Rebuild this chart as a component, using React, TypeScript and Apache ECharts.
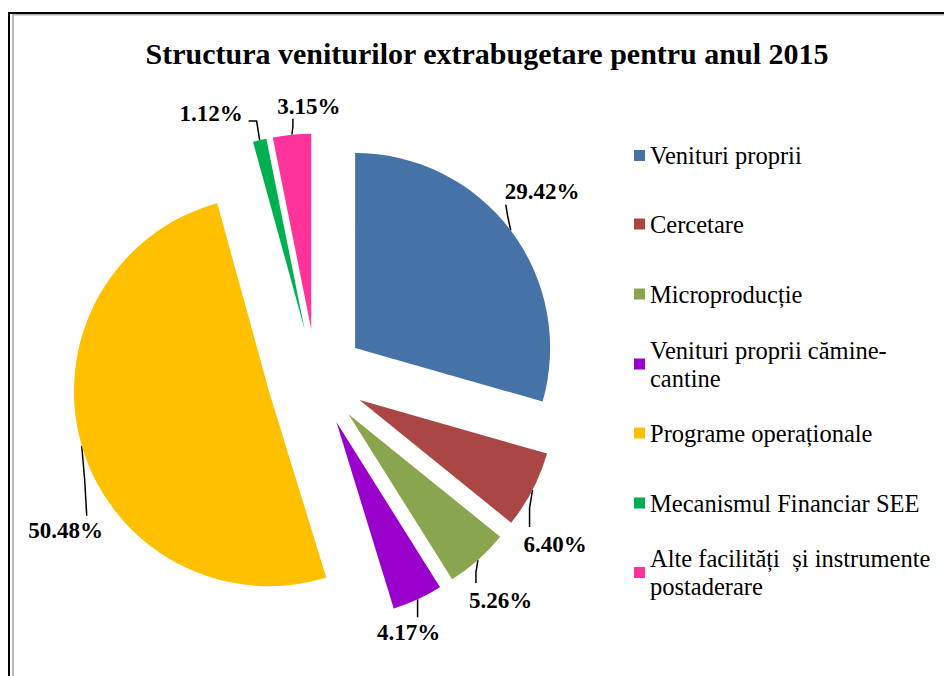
import React, { useEffect, useRef } from 'react';
import * as echarts from 'echarts';

const chartTitle = 'Structura veniturilor extrabugetare pentru anul 2015';
const categories = [
  'Venituri proprii',
  'Cercetare',
  'Microproducție',
  'Venituri proprii cămine-cantine',
  'Programe operaționale',
  'Mecanismul Financiar SEE',
  'Alte facilități și instrumente postaderare',
];
const legendLabels = [
  'Venituri proprii',
  'Cercetare',
  'Microproducție',
  'Venituri proprii cămine-\ncantine',
  'Programe operaționale',
  'Mecanismul Financiar SEE',
  'Alte facilități  și instrumente\npostaderare',
];
const values = [29.42, 6.4, 5.26, 4.17, 50.48, 1.12, 3.15];
const colors = ['#4572A7', '#AA4643', '#89A54E', '#9900CC', '#FFC000', '#00B050', '#FF3399'];

// label placement (style): line bend points and text anchor offset relative to the slice's outer mid-point
const labelPlacement = [
  { l1: [-3, -14], l2: [-5, -26], t: [-6, -39], align: 'left' },
  { l1: [-3, 18], l2: [-3, 37], t: [-9, 55], align: 'left' },
  { l1: [-2, 12], l2: [-2, 23], t: [-9, 40], align: 'left' },
  { l1: [0, 9], l2: [0, 18], t: [-9, 33], align: 'center' },
  { l1: [3, 35], l2: [5, 70], t: [-16, 85], align: 'center' },
  { l1: [-3, -19], l2: [-11, -19], t: [-17, -27], align: 'right' },
  { l1: [1, -8], l2: [1, -16], t: [17, -28], align: 'center' },
];
const legendMarkerCenters = [155.5, 224, 294, 364, 433, 503, 572.5];

const EXPLODE = 49;
const SERIF = 'Liberation Serif';

export default function App() {
  const ref = useRef<HTMLDivElement>(null);
  useEffect(() => {
    if (!ref.current) return;
    const chart = echarts.init(ref.current, undefined, { renderer: 'svg' });
    const lineH = 28;
    const legends = categories.map((name, i) => {
      const twoLine = legendLabels[i].includes('\n');
      const ts = {
        fontFamily: SERIF,
        fontSize: 24.5,
        color: '#000',
        lineHeight: lineH,
        padding: twoLine ? [lineH, 0, 0, 0] : 0,
      };
      return {
        data: [{ name, textStyle: ts }],
        orient: 'vertical',
        left: 634,
        top: legendMarkerCenters[i] - (twoLine ? 42 : 14),
        padding: 0,
        icon: 'rect',
        itemWidth: 11,
        itemHeight: 11,
        selectedMode: false,
        formatter: () => legendLabels[i],
        textStyle: ts,
      };
    });
    chart.setOption({
      animation: false,
      backgroundColor: '#fff',
      textStyle: { fontFamily: SERIF },
      title: {
        text: chartTitle,
        left: 487,
        top: 38,
        padding: 0,
        textAlign: 'center',
        textStyle: { fontFamily: SERIF, fontSize: 30, fontWeight: 'bold', color: '#000' },
      },
      legend: legends,
      graphic: [
        { type: 'line', shape: { x1: 9, y1: 13, x2: 944, y2: 13 }, style: { stroke: '#000', lineWidth: 2 } },
        { type: 'line', shape: { x1: 9, y1: 12, x2: 9, y2: 676 }, style: { stroke: '#000', lineWidth: 2 } },
        { type: 'line', shape: { x1: 13, y1: 14.8, x2: 944, y2: 14.8 }, style: { stroke: '#b0b0b0', lineWidth: 1.5 } },
        { type: 'line', shape: { x1: 13, y1: 14, x2: 13, y2: 676 }, style: { stroke: '#b8b8b8', lineWidth: 2 } },
      ],
      series: [
        {
          type: 'pie',
          center: [316, 377.5],
          radius: 195,
          startAngle: 90,
          clockwise: true,
          selectedMode: 'multiple',
          selectedOffset: EXPLODE,
          avoidLabelOverlap: false,
          emphasis: { disabled: true },
          select: { itemStyle: { borderWidth: 0 } },
          itemStyle: { borderWidth: 0 },
          data: categories.map((name, i) => ({
            name,
            value: values[i],
            selected: true,
            itemStyle: { color: colors[i] },
          })),
          label: {
            show: true,
            position: 'outside',
            formatter: (p: any) => `${p.value.toFixed(2)}%`,
            fontFamily: SERIF,
            fontSize: 23,
            fontWeight: 'bold',
            color: '#000',
          },
          labelLine: {
            show: true,
            length: 10,
            length2: 0,
            lineStyle: { color: '#000', width: 1.5 },
          },
          labelLayout: (params: any) => {
            const pts = params.labelLinePoints;
            const p = labelPlacement[params.dataIndex];
            const R = params.labelRect;
            if (!pts || !p || !R) return {};
            const [x0, y0] = pts[0];
            const [x1, y1] = pts[1];
            const [x2, y2] = pts[pts.length - 1];
            const len = Math.hypot(x1 - x0, y1 - y0) || 1;
            const ex = ((x1 - x0) / len) * EXPLODE;
            const ey = ((y1 - y0) / len) * EXPLODE;
            // anchor of the default label, to find whether its rect already includes the explosion shift
            const da = params.align;
            const ax = da === 'left' ? R.x : da === 'right' ? R.x + R.width : R.x + R.width / 2;
            const ay = R.y + R.height / 2;
            const sameSpace = Math.hypot(ax - x2, ay - y2) <= Math.hypot(ax - x2 - ex, ay - y2 - ey);
            const sx = sameSpace ? 0 : ex;
            const sy = sameSpace ? 0 : ey;
            const gx = x0 + sx + p.t[0];
            const gy = y0 + sy + p.t[1];
            const curX = p.align === 'left' ? R.x : p.align === 'right' ? R.x + R.width : R.x + R.width / 2;
            const curY = R.y + R.height / 2;
            return {
              dx: gx - curX,
              dy: gy - curY,
              labelLinePoints: [
                [x0, y0],
                [x0 + p.l1[0], y0 + p.l1[1]],
                [x0 + p.l2[0], y0 + p.l2[1]],
              ],
            };
          },
        },
      ],
    });
    return () => chart.dispose();
  }, []);
  return (
    <div
      ref={ref}
      style={{ position: 'fixed', left: 0, top: 0, width: 944, height: 676 }}
    />
  );
}
